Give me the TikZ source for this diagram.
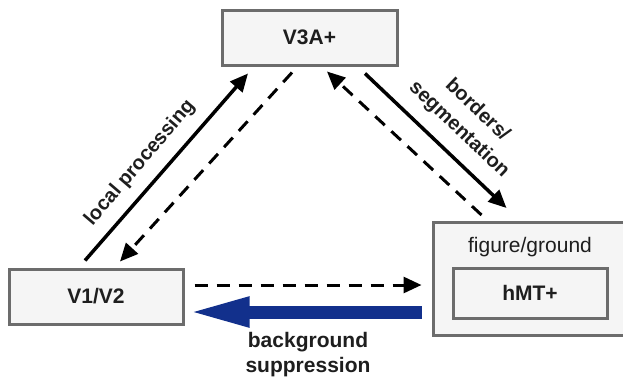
\documentclass[tikz,border=0pt]{standalone}
\usepackage{fontspec}
\setmainfont{Liberation Sans}
\usetikzlibrary{arrows.meta,calc}
\definecolor{boxgray}{RGB}{108,108,108}
\definecolor{boxfill}{RGB}{245,245,245}
\definecolor{navy}{RGB}{18,48,140}
\definecolor{ink}{RGB}{30,30,30}
\begin{document}
\begin{tikzpicture}[x=1pt,y=-1pt,
  box/.style={draw=boxgray, line width=3pt, fill=boxfill, inner sep=0pt,
    font=\fontsize{21}{25}\selectfont\bfseries, text=ink},
  lbl/.style={font=\fontsize{20}{26.5}\selectfont\bfseries, inner sep=0pt, align=center, text=ink},
  plainlbl/.style={font=\fontsize{21}{25}\selectfont, inner sep=0pt, text=ink},
  solidarr/.style={draw=black, line width=3.5pt, -{Triangle[length=18pt,width=16pt]}},
  dasharr/.style={draw=black, line width=3pt, dash pattern=on 13pt off 9pt, -{Triangle[length=18pt,width=16pt]}},
  bluearr/.style={draw=navy, line width=13pt, -{Triangle[length=63pt,width=27pt]}},
]
\clip (0,0) rectangle (623,381);
\fill[white] (0,0) rectangle (623,381);

% boxes
\node[box, minimum width=175pt, minimum height=55pt] (v3a) at (309.5,37.5) {V3A+};
\node[box, minimum width=174pt, minimum height=55pt] (v1) at (96,296.5) {V1/V2};
\node[box, minimum width=207pt, minimum height=113pt] (outer) at (536.5,278.5) {};
\node[plainlbl] (fg) at (530,247) {figure/ground};
\node[box, minimum width=154pt, minimum height=50pt] (hmt) at (530,293) {hMT+};

% left pair of arrows
\draw[solidarr] ($(v1.north)+(-11,-7)$) -- ($(v3a.south)+(-61.5,7)$);
\draw[dasharr] ($(v3a.south)+(-17.5,6)$) -- ($(v1.north)+(24,-6)$);

% right pair of arrows
\draw[solidarr] ($(v3a.south)+(55.5,7)$) -- ($(outer.west)+(75,-70.5)$);
\draw[dasharr] ($(outer.west)+(50,-63.5)$) -- ($(v3a.south)+(17.5,5)$);

% bottom pair of arrows
\draw[dasharr] ($(v1.east)+(10,-11.5)$) -- ($(outer.west)+(-10,6.5)$);
\draw[bluearr] ($(outer.west)+(-10,33.5)$) -- ($(v1.east)+(2,15.5)$);

% labels
\node[lbl, rotate=49.4] (lp) at (140,163) {local processing};
\node[lbl, rotate=-43.6] (bs) at (468,120) {borders/\\segmentation};
\node[lbl, font=\fontsize{21}{25}\selectfont\bfseries] (bg) at (308,354.5) {background\\suppression};
\end{tikzpicture}
\end{document}
